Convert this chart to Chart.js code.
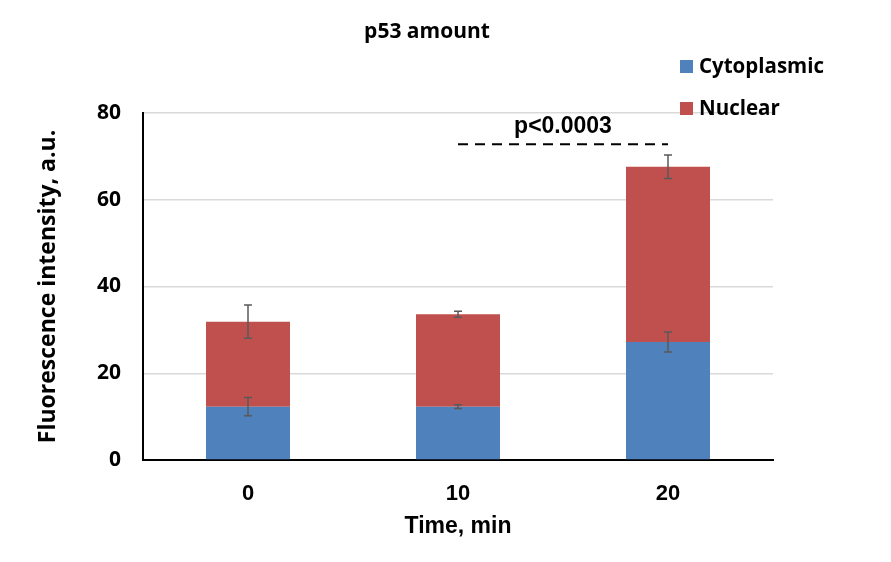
<!DOCTYPE html>
<html>
<head>
<meta charset="utf-8">
<script src="https://cdn.jsdelivr.net/npm/chart.js@4"></script>
<style>
  html, body { margin: 0; padding: 0; background: #fff; }
  #wrap { width: 891px; height: 562px; }
</style>
</head>
<body>
<div id="wrap"><canvas id="myChart" width="891" height="562"></canvas></div>
<script>
// data
const tempos = ['0', '10', '20'];
const citoplasma = [12.3, 12.3, 27.2];
const nuclear = [19.6, 21.3, 40.4];
const erroCitoplasma = [2.1, 0.45, 2.3];
const erroTotal = [3.85, 0.7, 2.7];
const yTicks = [0, 20, 40, 60, 80];
const significancia = 'p<0.0003';
const nivelSignificancia = 72.8; // height of dashed line
const nivelTexto = 76.9;

const azul = '#4F81BD';
const vermelho = '#C0504D';
const fonteCalibri = '"Open Sans", "Noto Sans", sans-serif';
const fonteArial = '"Liberation Sans", Arial, sans-serif';

// draws title, legend, error bars and the significance mark
const extras = {
  id: 'extras',
  afterDatasetsDraw(chart) {
    const ctx = chart.ctx;
    const x = chart.scales.x;
    const y = chart.scales.y;

    // error bars
    ctx.save();
    ctx.strokeStyle = '#595959';
    ctx.lineWidth = 1.5;
    for (let i = 0; i < tempos.length; i++) {
      const px = x.getPixelForValue(i);
      const barras = [
        [citoplasma[i], erroCitoplasma[i]],
        [citoplasma[i] + nuclear[i], erroTotal[i]]
      ];
      barras.forEach(([v, e]) => {
        const y1 = y.getPixelForValue(v + e);
        const y2 = y.getPixelForValue(v - e);
        ctx.beginPath();
        ctx.moveTo(px, y1); ctx.lineTo(px, y2);
        ctx.moveTo(px - 4, y1); ctx.lineTo(px + 4, y1);
        ctx.moveTo(px - 4, y2); ctx.lineTo(px + 4, y2);
        ctx.stroke();
      });
    }
    ctx.restore();

    // dashed significance line between 10 and 20
    ctx.save();
    ctx.strokeStyle = '#000';
    ctx.lineWidth = 2;
    ctx.setLineDash([10, 7]);
    const ly = y.getPixelForValue(nivelSignificancia);
    ctx.beginPath();
    ctx.moveTo(x.getPixelForValue(1), ly);
    ctx.lineTo(x.getPixelForValue(2), ly);
    ctx.stroke();
    ctx.setLineDash([]);
    ctx.fillStyle = '#000';
    ctx.font = 'bold 23px ' + fonteArial;
    ctx.textAlign = 'center';
    ctx.textBaseline = 'middle';
    ctx.fillText(significancia, (x.getPixelForValue(1) + x.getPixelForValue(2)) / 2, y.getPixelForValue(nivelTexto));
    ctx.restore();

    // title
    ctx.save();
    ctx.fillStyle = '#000';
    ctx.font = 'bold 21px ' + fonteCalibri;
    ctx.textAlign = 'center';
    ctx.textBaseline = 'middle';
    ctx.fillText('p53 amount', 427, 32);
    ctx.restore();

    // legend
    ctx.save();
    const itens = chart.data.datasets;
    itens.forEach((ds, i) => {
      const cy = 66 + i * 42;
      ctx.fillStyle = ds.backgroundColor;
      ctx.fillRect(680, cy - 6, 13, 13);
      ctx.fillStyle = '#000';
      ctx.font = 'bold 20.5px ' + fonteCalibri;
      ctx.textAlign = 'left';
      ctx.textBaseline = 'middle';
      ctx.fillText(ds.label, 699, cy + 1);
    });
    ctx.restore();
  }
};

const ctx = document.getElementById('myChart');
const myChart = new Chart(ctx, {
  type: 'bar',
  data: {
    labels: tempos,
    datasets: [{
      label: 'Cytoplasmic',
      data: citoplasma,
      backgroundColor: azul,
      barPercentage: 0.4,
      categoryPercentage: 1.0
    }, {
      label: 'Nuclear',
      data: nuclear,
      backgroundColor: vermelho,
      barPercentage: 0.4,
      categoryPercentage: 1.0
    }]
  },
  plugins: [extras],
  options: {
    responsive: false,
    animation: false,
    layout: { padding: { top: 113, right: 118, left: 31, bottom: 22 } },
    plugins: {
      legend: { display: false },
      tooltip: { enabled: false }
    },
    scales: {
      x: {
        stacked: true,
        grid: { display: false, drawTicks: false },
        border: { color: '#000', width: 2 },
        ticks: {
          color: '#000',
          padding: 21,
          font: { family: fonteArial, size: 22, weight: 'bold' }
        },
        title: {
          display: true,
          text: 'Time, min',
          color: '#000',
          padding: { top: 4, bottom: 0 },
          font: { family: fonteArial, size: 23, weight: 'bold' }
        },
        afterFit(scale) { scale.height = 80; }
      },
      y: {
        stacked: true,
        min: 0,
        max: 80,
        afterBuildTicks(scale) { scale.ticks = yTicks.map(v => ({ value: v })); },
        grid: { color: '#d9d9d9', lineWidth: 1.5, drawTicks: false },
        border: { color: '#000', width: 2 },
        ticks: {
          color: '#000',
          padding: 22,
          font: { family: fonteCalibri, size: 21, weight: 'bold' }
        },
        title: {
          display: true,
          text: 'Fluorescence intensity, a.u.',
          color: '#000',
          padding: { top: 4, bottom: 4 },
          font: { family: fonteCalibri, size: 23, weight: 'bold' }
        },
        afterFit(scale) { scale.width = 112; }
      }
    }
  }
});
</script>
</body>
</html>
